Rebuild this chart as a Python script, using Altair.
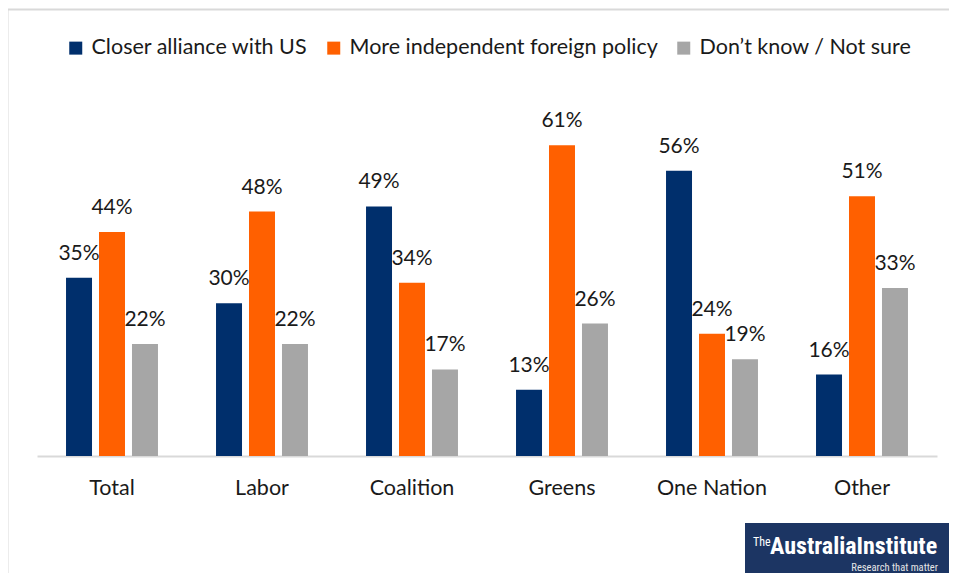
import altair as alt
import pandas as pd

categories = ["Total", "Labor", "Coalition", "Greens", "One Nation", "Other"]
series = ["Closer alliance with US", "More independent foreign policy", "Don\u2019t know / Not sure"]
closer_us = [35, 30, 49, 13, 56, 16]
independent = [44, 48, 34, 61, 24, 51]
dont_know = [22, 22, 17, 26, 19, 33]
colors = ["#002F6C", "#FF6000", "#A6A6A6"]

rows = []
for i, c in enumerate(categories):
    for s, vals in zip(series, [closer_us, independent, dont_know]):
        rows.append({"category": c, "series": s, "value": vals[i], "label": f"{vals[i]}%"})
df = pd.DataFrame(rows)

FONT = "Lato"
NARROW = "Liberation Sans Narrow, Roboto Condensed, Roboto"

x_enc = alt.X("category:N", sort=categories, title=None,
              scale=alt.Scale(paddingInner=0.387, paddingOuter=0.1935),
              axis=alt.Axis(labelAngle=0, labelFontSize=21.5, labelFont=FONT, labelColor="#1a1a1a",
                            ticks=False, tickSize=0, labelBaseline="alphabetic", labelPadding=38,
                            domainColor="#D9D9D9", domainWidth=2))
xoff = alt.XOffset("series:N", sort=series, scale=alt.Scale(paddingInner=0.212, paddingOuter=0))
y_enc = alt.Y("value:Q", scale=alt.Scale(domain=[0, 65], nice=False, zero=True), axis=None)

base = alt.Chart(df)

bars = base.mark_bar(clip=False).encode(
    x=x_enc, xOffset=xoff, y=y_enc,
    color=alt.Color("series:N", sort=series,
                    scale=alt.Scale(domain=series, range=colors),
                    legend=alt.Legend(title=None, orient="none", direction="horizontal",
                                      legendX=28, legendY=-88, symbolType="square",
                                      symbolSize=169, symbolStrokeWidth=0, labelFontSize=21.5,
                                      labelFont=FONT, labelColor="#1a1a1a", columnPadding=15,
                                      labelOffset=5, padding=0, labelLimit=400)),
)

labels = base.mark_text(fontSize=21, font=FONT, color="#1a1a1a", baseline="alphabetic",
                        dy=-18, clip=False).encode(
    x=x_enc, xOffset=xoff, y=y_enc, text="label:N", detail="series:N"
)

one = pd.DataFrame({"k": [0]})

frame = alt.Chart(one).mark_rect(
    fill=None, stroke="#D9D9D9", strokeWidth=2, clip=False
).encode(x=alt.value(-29.5), x2=alt.value(990), y=alt.value(-115.5), y2=alt.value(560))

logo_bg = alt.Chart(one).mark_rect(
    fill="#1C3563", clip=False
).encode(x=alt.value(708), x2=alt.value(940), y=alt.value(398), y2=alt.value(470))

logo_the = alt.Chart(pd.DataFrame({"t": ["The"]})).mark_text(
    font=NARROW, fontSize=12, color="white",
    align="left", baseline="alphabetic", clip=False
).encode(x=alt.value(716), y=alt.value(421), text="t:N")

logo_name = alt.Chart(pd.DataFrame({"t": ["AustraliaInstitute"]})).mark_text(
    font=NARROW, fontSize=24, fontWeight="bold",
    color="white", align="left", baseline="alphabetic", clip=False
).encode(x=alt.value(733), y=alt.value(429), text="t:N")

logo_tag = alt.Chart(pd.DataFrame({"t": ["Research that matter"]})).mark_text(
    font=NARROW, fontSize=10.5,
    color="#E6E6E6", align="right", baseline="alphabetic", clip=False
).encode(x=alt.value(901), y=alt.value(446), text="t:N")

chart = alt.layer(frame, logo_bg, logo_the, logo_name, logo_tag, bars, labels).properties(
    width=900, height=331,
    autosize=alt.AutoSizeParams(type="none"),
    padding={"left": 29, "top": 117, "right": 12, "bottom": 117},
    background="white",
).configure_view(stroke=None)

chart.save("out.html", embed_options={"renderer": "svg", "actions": False})
